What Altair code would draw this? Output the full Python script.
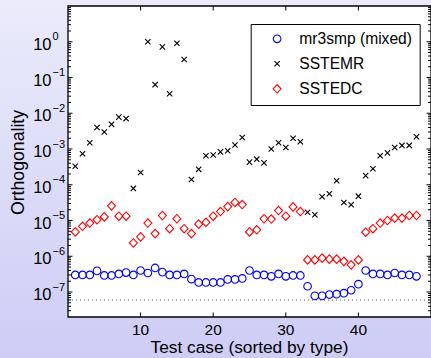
import altair as alt
import pandas as pd

# ---------------- data ----------------
cases = list(range(1, 49))
series_names = ["mr3smp (mixed)", "SSTEMR", "SSTEDC"]
series_colors = ["#0000FF", "#000000", "#FF0000"]

mr3smp = [3.0e-7, 3.0e-7, 3.0e-7, 3.9e-7, 2.9e-7, 2.9e-7, 3.2e-7, 3.5e-7,
          3.0e-7, 4.0e-7, 3.4e-7, 4.7e-7, 3.6e-7, 3.0e-7, 3.0e-7, 3.2e-7,
          2.3e-7, 1.85e-7, 1.85e-7, 1.85e-7, 1.85e-7, 2.25e-7, 2.25e-7, 2.4e-7,
          4.0e-7, 3.0e-7, 3.0e-7, 2.75e-7, 3.2e-7, 2.75e-7, 2.9e-7, 2.9e-7,
          1.45e-7, 7.8e-8, 7.8e-8, 8.5e-8, 8.7e-8, 9.3e-8, 1.12e-7, 1.66e-7,
          4.0e-7, 3.2e-7, 3.2e-7, 3.0e-7, 3.4e-7, 3.0e-7, 3.0e-7, 2.75e-7]

sstemr = [3.3e-4, 7.4e-4, 1.5e-3, 4.0e-3, 3.0e-3, 4.9e-3, 7.8e-3, 7.1e-3,
          7.9e-5, 2.2e-4, 1.0, 6.3e-2, 0.72, 3.5e-2, 0.91, 0.32,
          1.4e-4, 2.7e-4, 6.5e-4, 6.8e-4, 8.3e-4, 8.9e-4, 1.3e-3, 2.1e-3,
          4.3e-4, 5.2e-4, 4.1e-4, 1.0e-3, 1.5e-3, 1.1e-3, 2.0e-3, 1.6e-3,
          1.7e-5, 1.45e-5, 4.6e-5, 5.6e-5, 1.3e-4, 3.2e-5, 2.75e-5, 4.8e-5,
          1.8e-4, 2.8e-4, 6.5e-4, 7.8e-4, 1.1e-3, 1.26e-3, 1.26e-3, 2.2e-3]

sstedc = [4.8e-6, 6.9e-6, 8.5e-6, 1.05e-5, 1.26e-5, 2.57e-5, 1.32e-5, 1.32e-5,
          2.35e-6, 3.5e-6, 8.5e-6, 4.3e-6, 1.38e-5, 5.9e-6, 1.12e-5, 5.9e-6,
          4.3e-6, 7.9e-6, 8.9e-6, 1.32e-5, 1.78e-5, 2.45e-5, 3.2e-5, 2.8e-5,
          4.8e-6, 5.5e-6, 1.12e-5, 1.1e-5, 1.9e-5, 1.32e-5, 2.4e-5, 1.78e-5,
          7.9e-7, 7.9e-7, 8.9e-7, 8.3e-7, 8.3e-7, 7.2e-7, 5.75e-7, 7.9e-7,
          4.7e-6, 5.9e-6, 8.5e-6, 1.0e-5, 1.17e-5, 1.17e-5, 1.38e-5, 1.38e-5]

eps_level = [5.96e-8]
x_ticks = [10, 20, 30, 40]
y_major = [1e-7, 1e-6, 1e-5, 1e-4, 1e-3, 1e-2, 1e-1, 1e0]
y_exponents = ["\u22127", "\u22126", "\u22125", "\u22124", "\u22123", "\u22122", "\u22121", "0"]
y_minor = [k * 10.0 ** n for n in range(-8, 1) for k in range(2, 10)
           if 2.05e-8 < k * 10.0 ** n < 10]
x_title = "Test case (sorted by type)"
y_title = "Orthogonality"

# ---------------- layout ----------------
W, H = 363, 311
FONT = "Liberation Sans"
xscale = alt.Scale(domain=[0, 50], nice=False, zero=False)
yscale = alt.Scale(type="log", domain=[2e-8, 10], nice=False)

df = pd.concat([
    pd.DataFrame({"case": cases, "value": mr3smp, "series": series_names[0]}),
    pd.DataFrame({"case": cases, "value": sstemr, "series": series_names[1]}),
    pd.DataFrame({"case": cases, "value": sstedc, "series": series_names[2]}),
], ignore_index=True)

one = pd.DataFrame({"a": [0]})

bg = alt.Chart(one).mark_rect(
    color=alt.LinearGradient(
        gradient="linear",
        stops=[alt.GradientStop(color="#EBEBFB", offset=0),
               alt.GradientStop(color="#CDCDF6", offset=1)],
        x1=0, x2=0, y1=0, y2=1)
).encode(x=alt.value(-70), x2=alt.value(W + 10), y=alt.value(-6), y2=alt.value(H + 41))

plot_bg = alt.Chart(one).mark_rect(color="white").encode(
    x=alt.value(0), x2=alt.value(W), y=alt.value(0), y2=alt.value(H))

eps_line = alt.Chart(pd.DataFrame({"v": eps_level})).mark_rule(
    color="#555555", strokeDash=[1, 3], strokeWidth=1
).encode(y=alt.Y("v:Q", scale=yscale, axis=None), x=alt.value(0), x2=alt.value(W))

def yticks(vals, length):
    d = pd.DataFrame({"v": vals})
    left = alt.Chart(d).mark_rule(color="black", strokeWidth=1).encode(
        y=alt.Y("v:Q", scale=yscale, axis=None), x=alt.value(0), x2=alt.value(length))
    right = alt.Chart(d).mark_rule(color="black", strokeWidth=1).encode(
        y=alt.Y("v:Q", scale=yscale, axis=None), x=alt.value(W - length), x2=alt.value(W))
    return [left, right]

xd = pd.DataFrame({"v": x_ticks, "lab": [str(t) for t in x_ticks]})
xt_bottom = alt.Chart(xd).mark_rule(color="black", strokeWidth=1).encode(
    x=alt.X("v:Q", scale=xscale, axis=None), y=alt.value(H - 4.5), y2=alt.value(H))
xt_top = alt.Chart(xd).mark_rule(color="black", strokeWidth=1).encode(
    x=alt.X("v:Q", scale=xscale, axis=None), y=alt.value(0), y2=alt.value(4.5))
x_labels = alt.Chart(xd).mark_text(
    align="center", baseline="alphabetic", fontSize=15.5, font=FONT, color="black"
).encode(x=alt.X("v:Q", scale=xscale, axis=None), y=alt.value(H + 18), text="lab:N")

xpath = "M-0.7,-0.7L0.7,0.7M-0.7,0.7L0.7,-0.7"
diam = "M-1.05,0L0,-1.12L1.05,0L0,1.12Z"

leg = alt.Legend(
    title=None, orient="none", legendX=182.7, legendY=18,
    fillColor="white", strokeColor="black", padding=7, rowPadding=8,
    symbolOffset=11.6, labelOffset=14.4, labelFontSize=15.6, labelFont=FONT,
    labelColor="black", symbolSize=58, symbolStrokeWidth=1.1, labelLimit=300,
    cornerRadius=0)

points = alt.Chart(df).mark_point(filled=False, size=58, strokeWidth=1.1, opacity=1).encode(
    x=alt.X("case:Q", scale=xscale, axis=None),
    y=alt.Y("value:Q", scale=yscale, axis=None),
    color=alt.Color("series:N", scale=alt.Scale(domain=series_names, range=series_colors),
                    legend=leg),
    shape=alt.Shape("series:N", scale=alt.Scale(domain=series_names,
                                                range=["circle", xpath, diam]),
                    legend=leg),
)

lab_df = pd.DataFrame({"v": y_major, "exp": y_exponents})
base10 = alt.Chart(lab_df).mark_text(
    text="10", align="right", baseline="alphabetic", dy=8, fontSize=16.5, font=FONT,
    color="black"
).encode(y=alt.Y("v:Q", scale=yscale, axis=None), x=alt.value(-16.5))
exps = alt.Chart(lab_df).mark_text(
    align="left", baseline="alphabetic", dy=-1.3, fontSize=11, font=FONT, color="black"
).encode(y=alt.Y("v:Q", scale=yscale, axis=None), x=alt.value(-15.5), text="exp:N")

xtitle = alt.Chart(one).mark_text(
    text=x_title, align="center", baseline="alphabetic", fontSize=17.3, font=FONT,
    color="black"
).encode(x=alt.value(W / 2), y=alt.value(H + 36))
ytitle = alt.Chart(one).mark_text(
    text=y_title, align="center", baseline="alphabetic", angle=270, fontSize=17.7,
    font=FONT, color="black"
).encode(x=alt.value(-44), y=alt.value(H / 2 + 1))

frame = alt.Chart(one).mark_rect(fillOpacity=0, stroke="black", strokeWidth=1.3).encode(
    x=alt.value(0), x2=alt.value(W), y=alt.value(0), y2=alt.value(H))

layers = [bg, plot_bg, eps_line] + yticks(y_major, 4.5) + yticks(y_minor, 3) + \
         [xt_bottom, xt_top, points, base10, exps, x_labels, xtitle, ytitle, frame]

chart = alt.layer(*layers).properties(
    width=W, height=H,
    padding={"left": 68, "top": 6, "right": 0, "bottom": 41},
    autosize=alt.AutoSizeParams(type="none"),
    background="#DADAF8",
).configure_view(strokeWidth=0).configure(font=FONT)

chart.save("out.html", embed_options={"renderer": "svg", "actions": False})
